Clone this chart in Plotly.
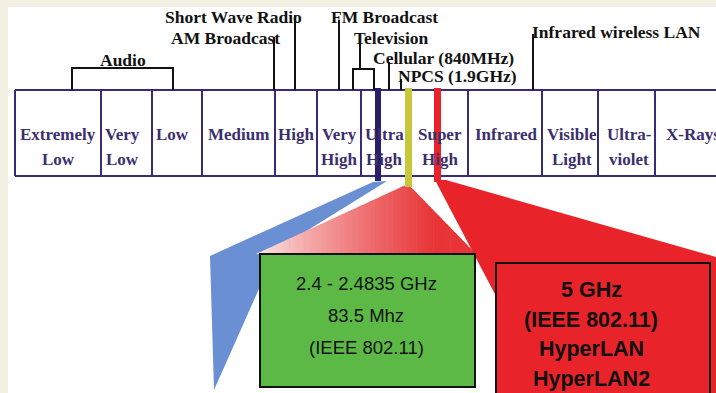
import plotly.graph_objects as go
import numpy as np

# ---------------- data (labels) ----------------
band_line1 = ["Extremely", "Very", "Low", "Medium", "High", "Very", "Ultra", "Super",
              "Infrared", "Visible", "Ultra-", "X-Rays"]
band_line2 = ["Low", "Low", "", "", "", "High", "High", "High", "", "Light", "violet", ""]
band_x = [58, 122, 172, 238, 296, 339, 384, 440, 506, 572, 629, 693]
band_edges = [15, 101, 152, 202, 275, 317, 361, 408, 468, 542, 598, 655, 760]

top_labels = ["Short Wave Radio", "AM Broadcast", "Audio", "FM Broadcast", "Television",
              "Cellular (840MHz)", "NPCS (1.9GHz)", "Infrared wireless LAN"]
top_x = [233, 225, 123, 384, 391, 443, 457, 616]
top_y = [17, 38, 60, 17, 38, 58, 76, 32]

green_lines = ["2.4 - 2.4835 GHz", "83.5 Mhz", "(IEEE 802.11)"]
red_lines = ["5 GHz", "(IEEE 802.11)", "HyperLAN", "HyperLAN2"]

NAVY = "#3a2b7a"
BEIGE = "#f2f0e2"

fig = go.Figure()
shapes = []

# white page over beige border
shapes.append(dict(type="rect", x0=8, x1=716, y0=7, y1=393, fillcolor="white",
                   line=dict(width=0), layer="below"))

# ---- bottom shapes ----
# blue band
shapes.append(dict(type="path",
                   path="M 373,182 L 387,181 L 300,235 L 262,282 L 214,390 L 210,256 Z",
                   fillcolor="#6a8fd2", line=dict(width=0)))
# gradient triangle (white -> red), drawn as thin vertical strips
apex = (408.0, 184.0)
left = (256.0, 254.0)
right = (476.0, 254.0)


def ytop(x):
    if x <= apex[0]:
        return left[1] + (apex[1] - left[1]) * (x - left[0]) / (apex[0] - left[0])
    return apex[1] + (right[1] - apex[1]) * (x - apex[0]) / (right[0] - apex[0])


xs = np.concatenate([np.linspace(left[0], apex[0], 60), np.linspace(apex[0], right[0], 25)[1:]])
c0 = np.array([253, 240, 240])
c1 = np.array([232, 52, 54])
for a, b in zip(xs[:-1], xs[1:]):
    t = np.clip(((a + b) / 2 - left[0]) / (435 - left[0]), 0, 1) ** 0.8
    col = (c0 + (c1 - c0) * t).astype(int)
    colstr = f"rgb({col[0]},{col[1]},{col[2]})"
    shapes.append(dict(type="path",
                       path=f"M {a-0.3},{ytop(a)} L {b+0.3},{ytop(b)} L {b+0.3},{left[1]} L {a-0.3},{left[1]} Z",
                       fillcolor=colstr, line=dict(width=0)))

# red wedge
shapes.append(dict(type="path",
                   path="M 435,180 L 446,180 L 716,257 L 716,393 L 498,393 L 497,298 Z",
                   fillcolor="#e8232a", line=dict(width=0)))
# green box
shapes.append(dict(type="rect", x0=260, x1=475, y0=254, y1=387, fillcolor="#5cb946",
                   line=dict(color="#111111", width=2)))
# red box
shapes.append(dict(type="rect", x0=496, x1=710, y0=263, y1=400, fillcolor="#e8232a",
                   line=dict(color="#111111", width=2)))

# ---- spectrum box ----
shapes.append(dict(type="line", x0=15, x1=730, y0=90, y1=90, line=dict(color=NAVY, width=2)))
shapes.append(dict(type="line", x0=15, x1=730, y0=176, y1=176, line=dict(color=NAVY, width=2)))
for e in band_edges[:-1]:
    shapes.append(dict(type="line", x0=e, x1=e, y0=90, y1=176, line=dict(color=NAVY, width=2)))

# ---- top leader lines ----
blk = dict(color="#111111", width=2)
shapes.append(dict(type="path", path="M 72,90 L 72,68 L 173,68 L 173,90", line=blk))
shapes.append(dict(type="line", x0=274, x1=274, y0=37, y1=90, line=blk))
shapes.append(dict(type="line", x0=295, x1=295, y0=15, y1=90, line=blk))
shapes.append(dict(type="line", x0=339, x1=339, y0=20, y1=90, line=blk))
shapes.append(dict(type="path", path="M 353,90 L 353,69 L 374,69 L 374,90", line=blk))
shapes.append(dict(type="line", x0=360, x1=360, y0=40, y1=69, line=blk))
shapes.append(dict(type="line", x0=389, x1=389, y0=62, y1=90, line=blk))
shapes.append(dict(type="line", x0=401, x1=401, y0=79, y1=90, line=blk))
shapes.append(dict(type="line", x0=533, x1=533, y0=34, y1=90, line=blk))

annotations = []
# band labels
for i, (l1, l2) in enumerate(zip(band_line1, band_line2)):
    annotations.append(dict(x=band_x[i], y=134, text=f"<b>{l1}</b>", showarrow=False,
                            xanchor="center", yanchor="middle",
                            font=dict(family="Liberation Serif", size=17, color="#3b2f6e")))
    if l2:
        annotations.append(dict(x=band_x[i], y=159, text=f"<b>{l2}</b>", showarrow=False,
                                xanchor="center", yanchor="middle",
                                font=dict(family="Liberation Serif", size=17, color="#3b2f6e")))

# top labels
for t, x, y in zip(top_labels, top_x, top_y):
    annotations.append(dict(x=x, y=y, text=f"<b>{t}</b>", showarrow=False,
                            xanchor="center", yanchor="middle",
                            font=dict(family="Liberation Serif", size=17.5, color="#111111")))

# box texts
for i, t in enumerate(green_lines):
    annotations.append(dict(x=366, y=283 + 32 * i, text=t, showarrow=False,
                            xanchor="center", yanchor="middle",
                            font=dict(family="Liberation Sans", size=18.5, color="#111111")))
for i, t in enumerate(red_lines):
    annotations.append(dict(x=591, y=290 + 29.5 * i, text=f"<b>{t}</b>", showarrow=False,
                            xanchor="center", yanchor="middle",
                            font=dict(family="Liberation Sans", size=21.5, color="#111111")))

# spectrum marker bars
shapes.append(dict(type="rect", x0=375, x1=381, y0=88, y1=181, fillcolor="#2a1d6a",
                   line=dict(width=0)))
shapes.append(dict(type="rect", x0=405, x1=412, y0=88, y1=187, fillcolor="#c6c83a",
                   line=dict(width=0)))
shapes.append(dict(type="rect", x0=434, x1=441, y0=88, y1=182, fillcolor="#e8232a",
                   line=dict(width=0)))

fig.update_layout(
    width=716, height=393,
    margin=dict(l=0, r=0, t=0, b=0),
    paper_bgcolor=BEIGE, plot_bgcolor=BEIGE,
    xaxis=dict(range=[0, 716], visible=False, fixedrange=True),
    yaxis=dict(range=[393, 0], visible=False, fixedrange=True),
    shapes=shapes, annotations=annotations, showlegend=False,
)
fig.write_html("out.html", config={"displayModeBar": False},
               post_script="document.body.style.margin='0';document.body.style.overflow='hidden';")
